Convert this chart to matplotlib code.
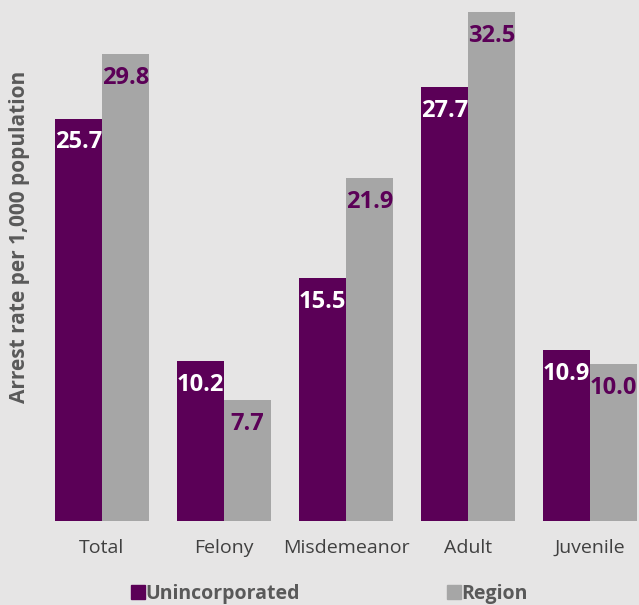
import matplotlib
matplotlib.use("Agg")
import matplotlib.pyplot as plt
from matplotlib.lines import Line2D
import numpy as np

categories = ["Total", "Felony", "Misdemeanor", "Adult", "Juvenile"]
unincorporated = [25.7, 10.2, 15.5, 27.7, 10.9]
region = [29.8, 7.7, 21.9, 32.5, 10.0]
series_names = ["Unincorporated", "Region"]

PURPLE = "#5B0057"
GRAY = "#A6A6A6"
BG = "#E6E5E5"
TXT = "#595959"

W, H = 639, 605
fig = plt.figure(figsize=(W/100, H/100), dpi=100, facecolor=BG)
ax = fig.add_axes([40/W, (H-521)/H, (639-40)/W, 521/H])
ax.set_facecolor(BG)

x = np.arange(len(categories))
bw = 0.385
b1 = ax.bar(x - bw/2, unincorporated, bw, color=PURPLE)
b2 = ax.bar(x + bw/2, region, bw, color=GRAY)

ax.set_xlim(-0.508, 4.40)
ax.set_ylim(0, 33.27)
ax.set_yticks([])
ax.set_xticks(x)
ax.set_xticklabels(categories, fontsize=14, color="#404040", family="Open Sans")
ax.tick_params(axis="x", length=0, pad=13)
for s in ax.spines.values():
    s.set_visible(False)

for bars, vals, col in ((b1, unincorporated, "white"), (b2, region, PURPLE)):
    for r, v in zip(bars, vals):
        ax.annotate(f"{v:.1f}", (r.get_x() + r.get_width()/2, r.get_height()),
                    xytext=(0, -17), textcoords="offset points",
                    ha="center", va="center", fontsize=17, fontweight="bold",
                    color=col, family="Open Sans", annotation_clip=False)

fig.text(20/W, 1 - 237/H, "Arrest rate per 1,000 population", rotation=90,
         ha="center", va="center", fontsize=15, fontweight="bold", color=TXT,
         family="Open Sans")

handles = [Line2D([], [], marker="s", linestyle="none", markersize=10, color=PURPLE),
           Line2D([], [], marker="s", linestyle="none", markersize=10, color=GRAY)]
leg = fig.legend(handles, series_names, loc="center", bbox_to_anchor=(330/W, 1 - 594/H),
                 ncol=2, frameon=False, handlelength=0.6, handletextpad=0.1,
                 columnspacing=7.6, prop={"family": "Open Sans", "weight": "bold", "size": 14})
for t in leg.get_texts():
    t.set_color(TXT)

fig.savefig("out.png", dpi=100, facecolor=BG)
